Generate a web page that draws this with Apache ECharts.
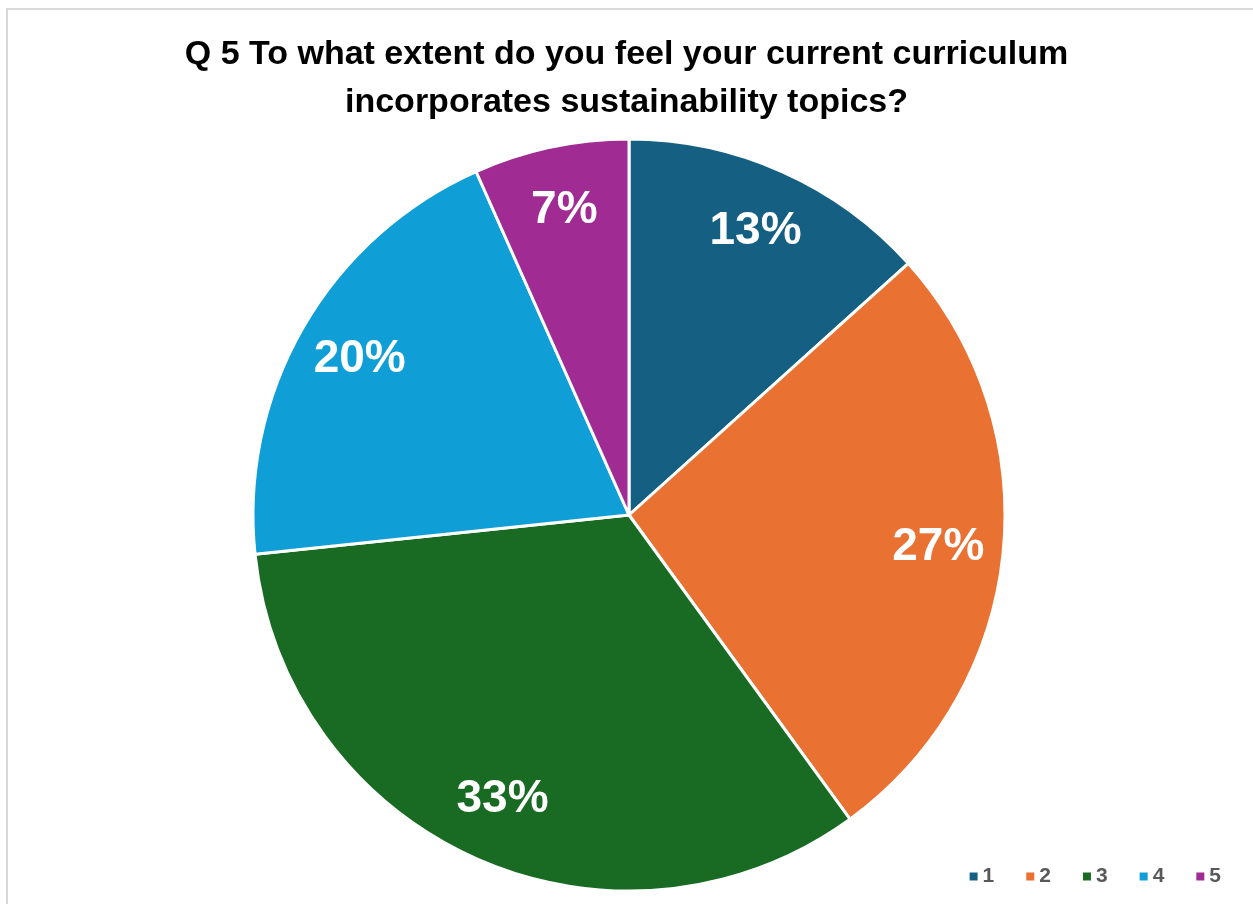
<!DOCTYPE html>
<html>
<head>
<meta charset="utf-8">
<script src="https://cdn.jsdelivr.net/npm/echarts@6/dist/echarts.min.js"></script>
<style>
html,body{margin:0;padding:0;background:#fff;}
#c{width:1253px;height:904px;}
</style>
</head>
<body>
<div id="c"></div>
<script>
var categories = ['1', '2', '3', '4', '5'];
var counts = [2, 4, 5, 3, 1];
var colors = ['#156082', '#E97132', '#196B24', '#0F9ED5', '#A02B93'];
var titleText = 'Q 5 To what extent do you feel your current curriculum\nincorporates sustainability topics?';

var chart = echarts.init(document.getElementById('c'));
var total = counts.reduce(function (a, b) { return a + b; }, 0);
var pieData = categories.map(function (c, i) {
  return { name: c, value: counts[i], itemStyle: { color: colors[i] } };
});
var labelData = categories.map(function (c, i) {
  return { name: c, value: counts[i] };
});

chart.setOption({
  animation: false,
  backgroundColor: '#fff',
  graphic: [{
    type: 'rect',
    shape: { x: 7, y: 9, width: 1300, height: 1000 },
    style: { fill: 'none', stroke: '#d9d9d9', lineWidth: 2 },
    z: -1
  }],
  title: {
    text: titleText,
    left: 'center',
    top: 26,
    textStyle: {
      fontFamily: 'Liberation Sans, Arial, sans-serif',
      fontWeight: 'bold',
      fontSize: 34,
      lineHeight: 48,
      color: '#000'
    }
  },
  legend: {
    data: categories,
    right: 27,
    top: 861,
    icon: 'rect',
    itemWidth: 10,
    itemHeight: 10,
    itemGap: 30,
    textStyle: {
      fontFamily: 'Liberation Sans, Arial, sans-serif',
      fontWeight: 'bold',
      fontSize: 21,
      color: '#595959',
      padding: [0, 0, 0, -1]
    }
  },
  series: [{
    type: 'pie',
    center: [629, 515],
    radius: [0, 376],
    startAngle: 90,
    clockwise: true,
    avoidLabelOverlap: false,
    label: { show: false },
    labelLine: { show: false },
    itemStyle: { borderColor: '#fff', borderWidth: 3 },
    emphasis: { disabled: true },
    data: pieData
  }, {
    type: 'pie',
    center: [629, 515],
    radius: [240, 376],
    startAngle: 90,
    clockwise: true,
    silent: true,
    legendHoverLink: false,
    avoidLabelOverlap: false,
    itemStyle: { color: 'rgba(0,0,0,0)' },
    emphasis: { disabled: true },
    label: {
      show: true,
      position: 'inside',
      formatter: function (p) { return Math.round(p.value / total * 100) + '%'; },
      fontFamily: 'Liberation Sans, Arial, sans-serif',
      fontWeight: 'bold',
      fontSize: 46,
      color: '#fff'
    },
    labelLine: { show: false },
    data: labelData
  }]
});
</script>
</body>
</html>
